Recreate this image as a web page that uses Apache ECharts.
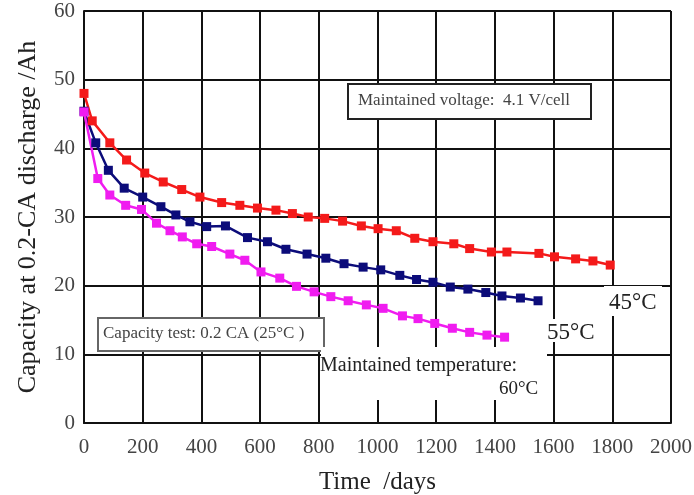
<!DOCTYPE html>
<html>
<head>
<meta charset="utf-8">
<script src="https://cdn.jsdelivr.net/npm/echarts@6/dist/echarts.min.js"></script>
<style>
html,body{margin:0;padding:0;background:#fff;}
#chart{width:694px;height:495px;}
</style>
</head>
<body>
<div id="chart"></div>
<script>
// days / Ah
const days45 = [0, 28, 88, 145, 207, 270, 333, 395, 469, 531, 591, 654, 710, 764, 820, 881, 945, 1002, 1064, 1127, 1189, 1260, 1314, 1388, 1441, 1550, 1603, 1675, 1734, 1793];
const cap45 = [48.0, 44.0, 40.8, 38.3, 36.4, 35.1, 34.0, 32.9, 32.1, 31.7, 31.3, 31.0, 30.5, 30.0, 29.8, 29.4, 28.7, 28.3, 28.0, 26.9, 26.4, 26.1, 25.4, 24.9, 24.9, 24.7, 24.2, 23.9, 23.6, 23.0];

const days55 = [0, 40, 83, 137, 200, 262, 313, 361, 418, 482, 557, 625, 688, 760, 824, 886, 951, 1011, 1076, 1133, 1189, 1248, 1308, 1369, 1424, 1487, 1547];
const cap55 = [45.4, 40.8, 36.8, 34.2, 32.9, 31.5, 30.3, 29.3, 28.6, 28.7, 27.0, 26.4, 25.3, 24.6, 24.0, 23.2, 22.7, 22.3, 21.5, 20.9, 20.5, 19.8, 19.5, 19.0, 18.5, 18.2, 17.8];

const days60 = [0, 47, 88, 142, 196, 247, 293, 335, 384, 435, 497, 548, 603, 667, 724, 784, 841, 900, 962, 1019, 1085, 1138, 1195, 1255, 1314, 1373, 1433];
const cap60 = [45.3, 35.6, 33.2, 31.7, 31.1, 29.1, 28.0, 27.1, 26.1, 25.7, 24.6, 23.7, 22.0, 21.1, 19.9, 19.1, 18.4, 17.8, 17.2, 16.7, 15.6, 15.2, 14.5, 13.8, 13.2, 12.8, 12.5];

const serif = '"Liberation Serif", "DejaVu Serif", serif';

function pairs(xs, ys){
    return xs.map((x, i) => [x, ys[i]]);
}

function makeSeries(name, xs, ys, color){
    return {
        name: name,
        type: 'line',
        data: pairs(xs, ys),
        symbol: 'rect',
        symbolSize: 9,
        lineStyle: {color: color, width: 2.5},
        itemStyle: {color: color},
        z: 5
    };
}

const chart = echarts.init(document.getElementById('chart'));
const option = {
    animation: false,
    backgroundColor: '#fff',
    grid: {left: 84, right: 23, top: 11, bottom: 72, outerBoundsMode: 'none'},
    xAxis: {
        type: 'value',
        min: 0, max: 2000, interval: 200,
        name: 'Time  /days',
        nameLocation: 'middle',
        nameGap: 47,
        nameTextStyle: {fontFamily: serif, fontSize: 25, color: '#222'},
        axisLine: {lineStyle: {color: '#111', width: 2}},
        axisTick: {show: false},
        axisLabel: {fontFamily: serif, fontSize: 21, color: '#444', margin: 14, formatter: v => String(v)},
        splitLine: {lineStyle: {color: '#111', width: 2}}
    },
    yAxis: {
        type: 'value',
        min: 0, max: 60, interval: 10,
        name: 'Capacity at 0.2-CA discharge /Ah',
        nameLocation: 'middle',
        nameGap: 43,
        nameTextStyle: {fontFamily: serif, fontSize: 26, color: '#222'},
        axisLine: {show: true, lineStyle: {color: '#111', width: 2}},
        axisTick: {show: false},
        axisLabel: {fontFamily: serif, fontSize: 21, color: '#444', margin: 9},
        splitLine: {lineStyle: {color: '#111', width: 2}}
    },
    series: [
        makeSeries('45°C', days45, cap45, '#f41a1a'),
        makeSeries('55°C', days55, cap55, '#0c0c7a'),
        makeSeries('60°C', days60, cap60, '#f01cf0')
    ],
    graphic: [
        {
            type: 'rect', z: 10,
            shape: {x: 348, y: 84, width: 243, height: 35},
            style: {fill: '#fff', stroke: '#222', lineWidth: 2}
        },
        {
            type: 'text', z: 11, left: 358, top: 92,
            style: {text: 'Maintained voltage:  4.1 V/cell', font: '17px ' + serif, fill: '#444'}
        },
        {
            type: 'rect', z: 10,
            shape: {x: 98, y: 318, width: 226, height: 33},
            style: {fill: '#fff', stroke: '#666', lineWidth: 2}
        },
        {
            type: 'text', z: 11, left: 103, top: 325,
            style: {text: 'Capacity test: 0.2 CA (25°C )', font: '17px ' + serif, fill: '#444'}
        },
        // white patches behind the temperature labels
        {
            type: 'rect', z: 10,
            shape: {x: 321, y: 347, width: 226, height: 53},
            style: {fill: '#fff'}
        },
        {
            type: 'rect', z: 10,
            shape: {x: 542, y: 319, width: 60, height: 23},
            style: {fill: '#fff'}
        },
        {
            type: 'rect', z: 10,
            shape: {x: 604, y: 286, width: 58, height: 30},
            style: {fill: '#fff'}
        },
        {
            type: 'text', z: 11, left: 320, top: 356,
            style: {text: 'Maintained temperature:', font: '20px ' + serif, fill: '#222'}
        },
        {
            type: 'text', z: 11, left: 499, top: 380,
            style: {text: '60°C', font: '19px ' + serif, fill: '#222'}
        },
        {
            type: 'text', z: 11, left: 547, top: 321,
            style: {text: '55°C', font: '23px ' + serif, fill: '#222'}
        },
        {
            type: 'text', z: 11, left: 609, top: 291,
            style: {text: '45°C', font: '23px ' + serif, fill: '#222'}
        }
    ]
};
chart.setOption(option);
</script>
</body>
</html>
